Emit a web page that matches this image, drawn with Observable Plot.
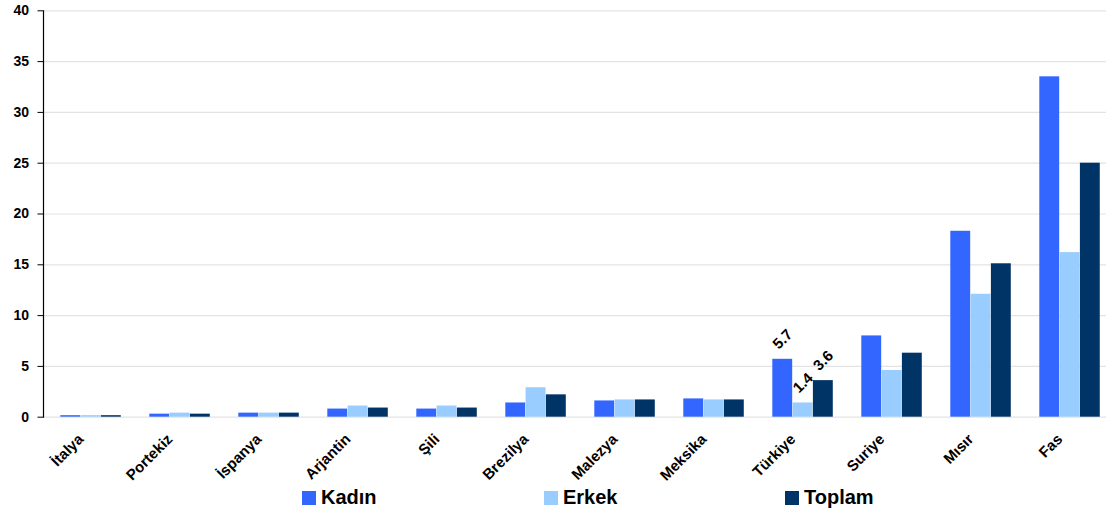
<!DOCTYPE html>
<html>
<head>
<meta charset="utf-8">
<script src="https://cdn.jsdelivr.net/npm/d3@7"></script>
<script src="https://cdn.jsdelivr.net/npm/@observablehq/plot@0.6"></script>
<style>
  html, body { margin: 0; padding: 0; background: #fff; }
  body { width: 1106px; height: 513px; overflow: hidden; font-family: "Liberation Sans", Arial, sans-serif; }
  #chart svg { display: block; }
  #legend { position: relative; height: 28px; width: 1106px; }
  .item { position: absolute; top: 1px; display: flex; align-items: center; font-weight: bold; font-size: 20px; color: #000; }
  .sw { width: 14px; height: 14px; margin-right: 5px; }
</style>
</head>
<body>
<div id="chart"></div>
<div id="legend"></div>
<script>
const countries = ["İtalya","Portekiz","İspanya","Arjantin","Şili","Brezilya","Malezya","Meksika","Türkiye","Suriye","Mısır","Fas"];
const kadin  = [0.15, 0.3, 0.4, 0.8, 0.8, 1.4, 1.6, 1.8, 5.7, 8.0, 18.3, 33.5];
const erkek  = [0.15, 0.4, 0.4, 1.1, 1.1, 2.9, 1.7, 1.7, 1.4, 4.6, 12.1, 16.2];
const toplam = [0.15, 0.3, 0.4, 0.9, 0.9, 2.2, 1.7, 1.7, 3.6, 6.3, 15.1, 25.0];
const series = ["Kadın", "Erkek", "Toplam"];
const colors = ["#3366FF", "#99CCFF", "#003366"];
const yTicks = [0, 5, 10, 15, 20, 25, 30, 35, 40];
const labeledCountries = ["Türkiye"];

const values = [kadin, erkek, toplam];
const rows = [];
series.forEach((s, si) => countries.forEach((c, ci) => rows.push({country: c, series: s, si, value: values[si][ci]})));

const W = 1106, H = 485, ML = 43, MR = -10, MT = 10.3, MB = 68.3;
const step = (W - MR - ML) / countries.length;
const barW = 20.3, firstInset = 14.3;

const marks = [
  Plot.gridY(yTicks, {stroke: "#e3e3e3", strokeOpacity: 1, strokeWidth: 1.2}),
];
series.forEach((s, si) => {
  const il = firstInset + barW * si;
  marks.push(Plot.barY(rows.filter(d => d.si === si), {
    x: "country", y: "value", fill: colors[si],
    insetLeft: il, insetRight: step - il - barW
  }));
});
marks.push(Plot.frame({anchor: "left", stroke: "#000", strokeWidth: 1.2}));
marks.push(Plot.axisY(yTicks, {label: null, tickSize: 5.5, tickPadding: 9, fontSize: 14, fontWeight: "bold", fill: "#000", stroke: "#000"}));
marks.push(Plot.text(countries, {
  x: d => d, frameAnchor: "bottom", rotate: -45, textAnchor: "end", lineAnchor: "middle",
  dx: -10, dy: 19.5, fontSize: 15, fontWeight: "bold", fill: "#000"
}));
series.forEach((s, si) => {
  marks.push(Plot.text(rows.filter(d => d.si === si && labeledCountries.includes(d.country)), {
    x: "country", y: "value", text: d => d.value.toFixed(1), rotate: -45,
    textAnchor: "middle", lineAnchor: "middle", dx: (si - 1) * barW, dy: -20,
    fontSize: 15, fontWeight: "bold", fill: "#000"
  }));
});

const chart = Plot.plot({
  width: W, height: H,
  marginLeft: ML, marginRight: MR, marginTop: MT, marginBottom: MB,
  style: {fontFamily: "'Liberation Sans', Arial, sans-serif", background: "#fff", overflow: "hidden"},
  x: {type: "band", domain: countries, padding: 0, axis: null},
  y: {domain: [0, 40], axis: null},
  marks
});
document.getElementById("chart").append(chart);

const legend = document.getElementById("legend");
const legendLeft = [302, 544, 785];
series.forEach((s, i) => {
  const it = document.createElement("div");
  it.className = "item";
  it.style.left = legendLeft[i] + "px";
  const sw = document.createElement("span");
  sw.className = "sw";
  sw.style.background = colors[i];
  it.append(sw, document.createTextNode(s));
  legend.append(it);
});
</script>
</body>
</html>
